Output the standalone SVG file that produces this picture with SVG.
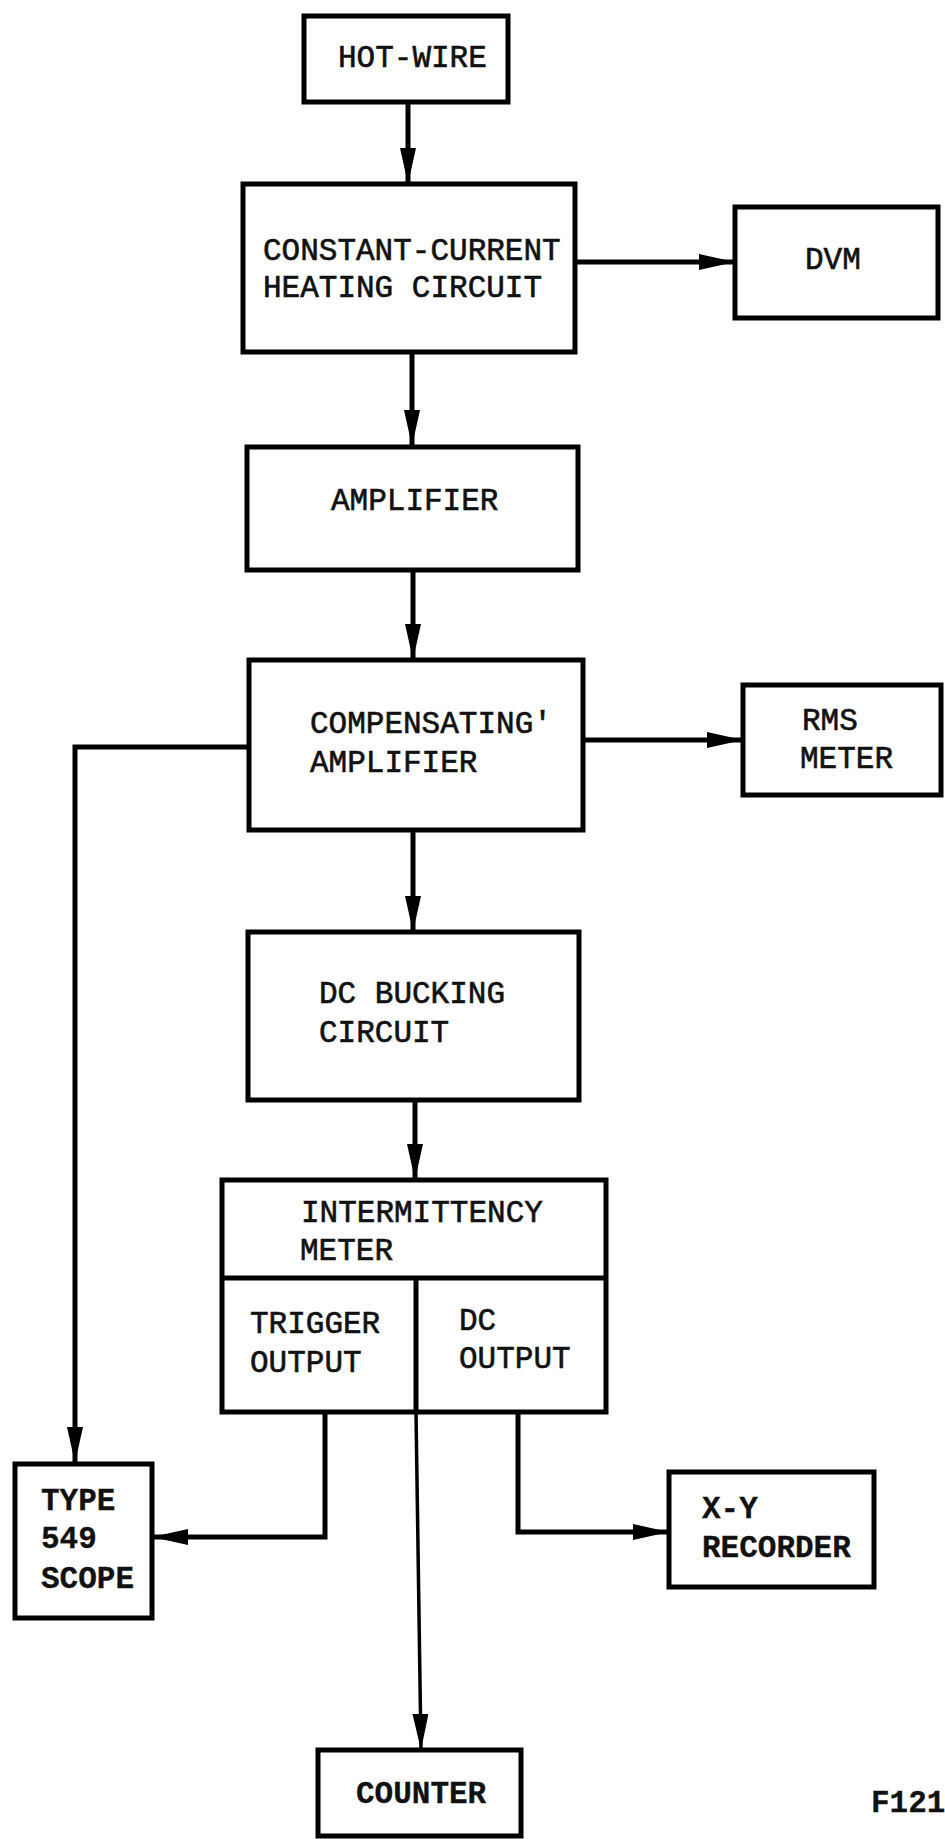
<svg xmlns="http://www.w3.org/2000/svg" width="945" height="1839" viewBox="0 0 945 1839">
<defs>
<marker id="ah" markerUnits="userSpaceOnUse" markerWidth="36" markerHeight="16" refX="36" refY="8" orient="auto">
<path d="M0,0 L36,8 L0,16 z" fill="#000"/>
</marker>
<style>
.box{fill:#fff;stroke:#000;stroke-width:5}
.t{font-family:"Liberation Mono","Courier New",monospace;font-size:31px;fill:#111;stroke:#111;stroke-width:0.6}
.b{font-weight:bold;stroke-width:0.3}
.c{fill:none;stroke:#000;stroke-width:5}
.thin{fill:none;stroke:#000;stroke-width:3.5}
</style>
</defs>
<rect width="945" height="1839" fill="#fff"/>
<g id="connectors">
<path class="c" d="M408,102 V184" marker-end="url(#ah)"/>
<path class="c" d="M575,262 H735" marker-end="url(#ah)"/>
<path class="c" d="M412,352 V446" marker-end="url(#ah)"/>
<path class="c" d="M413,570 V660" marker-end="url(#ah)"/>
<path class="c" d="M583,740 H743" marker-end="url(#ah)"/>
<path class="c" d="M413,830 V932" marker-end="url(#ah)"/>
<path class="c" d="M415,1100 V1180" marker-end="url(#ah)"/>
<path class="c" d="M249,747 H75 V1463" marker-end="url(#ah)"/>
<path class="c" d="M325,1412 V1537 H152" marker-end="url(#ah)"/>
<path class="c" d="M518,1410 V1532 H669" marker-end="url(#ah)"/>
<path class="thin" d="M416,1412 L421,1750" marker-end="url(#ah)"/>
</g>
<g id="hotwire">
<rect class="box" x="304" y="16" width="204" height="86"/>
<text class="t" x="338" y="67">HOT-WIRE</text>
</g>
<g id="cchc">
<rect class="box" x="243" y="184" width="332" height="168"/>
<text class="t" x="263" y="260">CONSTANT-CURRENT</text>
<text class="t" x="263" y="297">HEATING CIRCUIT</text>
</g>
<g id="dvm">
<rect class="box" x="735" y="207" width="203" height="111"/>
<text class="t" x="805" y="269">DVM</text>
</g>
<g id="amplifier">
<rect class="box" x="247" y="447" width="331" height="123"/>
<text class="t" x="331" y="510">AMPLIFIER</text>
</g>
<g id="compamp">
<rect class="box" x="249" y="660" width="334" height="170"/>
<text class="t" x="310" y="733">COMPENSATING'</text>
<text class="t" x="310" y="772">AMPLIFIER</text>
</g>
<g id="rms">
<rect class="box" x="743" y="685" width="198" height="110"/>
<text class="t" x="802" y="730">RMS</text>
<text class="t" x="800" y="768">METER</text>
</g>
<g id="dcbucking">
<rect class="box" x="248" y="932" width="331" height="168"/>
<text class="t" x="319" y="1003">DC BUCKING</text>
<text class="t" x="319" y="1042">CIRCUIT</text>
</g>
<g id="intermittency">
<rect class="box" x="222" y="1180" width="384" height="232"/>
<line class="c" x1="222" y1="1278" x2="606" y2="1278"/>
<line class="c" x1="416" y1="1278" x2="416" y2="1412"/>
<text class="t" x="301" y="1222">INTERMITTENCY</text>
<text class="t" x="300" y="1260">METER</text>
<text class="t" x="250" y="1333">TRIGGER</text>
<text class="t" x="250" y="1372">OUTPUT</text>
<text class="t" x="459" y="1330">DC</text>
<text class="t" x="459" y="1368">OUTPUT</text>
</g>
<g id="scope">
<rect class="box" x="15" y="1464" width="137" height="154"/>
<text class="t b" x="41" y="1510">TYPE</text>
<text class="t b" x="41" y="1548">549</text>
<text class="t b" x="41" y="1588">SCOPE</text>
</g>
<g id="xyrecorder">
<rect class="box" x="669" y="1472" width="205" height="115"/>
<text class="t b" x="702" y="1518">X-Y</text>
<text class="t b" x="702" y="1557">RECORDER</text>
</g>
<g id="counter">
<rect class="box" x="318" y="1750" width="203" height="86"/>
<text class="t b" x="356" y="1803">COUNTER</text>
</g>
<text class="t b" x="871" y="1812">F121</text>
</svg>
